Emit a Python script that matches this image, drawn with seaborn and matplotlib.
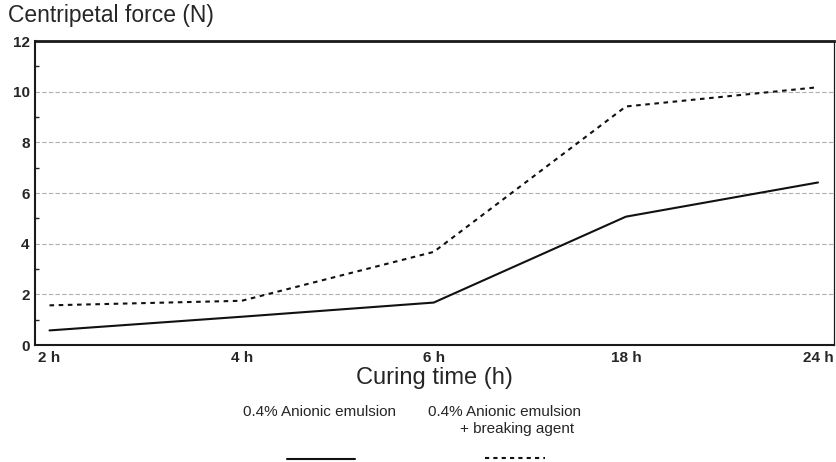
import matplotlib
matplotlib.use("Agg")
import matplotlib.pyplot as plt
import seaborn as sns
import pandas as pd
from matplotlib.lines import Line2D

categories = ["2 h", "4 h", "6 h", "18 h", "24 h"]
anionic = [0.58, 1.12, 1.68, 5.07, 6.42]
anionic_breaking = [1.57, 1.75, 3.68, 9.42, 10.18]
series_names = ["0.4% Anionic emulsion", "0.4% Anionic emulsion\n+ breaking agent"]
y_ticks = [0, 2, 4, 6, 8, 10, 12]

sns.set_theme(style="white")
plt.rcParams["font.family"] = ["Liberation Sans", "DejaVu Sans"]

df = pd.DataFrame({
    "time": categories * 2,
    "force": anionic + anionic_breaking,
    "series": [series_names[0]] * 5 + [series_names[1]] * 5,
})
df["pos"] = list(range(len(categories))) * 2

fig = plt.figure(figsize=(8.36, 4.62), dpi=100)
ax = fig.add_axes([0.042, 0.253, 0.956, 0.658])

sns.lineplot(data=df, x="pos", y="force", style="series",
             dashes={series_names[0]: "", series_names[1]: (2.2, 2.2)},
             color="#111111", linewidth=1.5, legend=False, ax=ax, sort=False)

ax.set_xlim(-0.075, 4.085)
ax.set_ylim(0, 12)
ax.set_xticks(range(len(categories)))
ax.set_xticklabels(categories, fontsize=11, fontweight="bold")
ax.set_yticks(y_ticks)
ax.set_yticklabels([str(v) for v in y_ticks], fontsize=11, fontweight="bold")
ax.set_yticks([1, 3, 5, 7, 9, 11], minor=True)
ax.tick_params(axis="both", which="major", direction="in", length=5, width=1, color="#222222", pad=4)
ax.tick_params(axis="y", which="minor", direction="in", length=3, width=1, color="#222222", left=True)
ax.tick_params(axis="x", which="major", length=6, pad=4)

for v in [2, 4, 6, 8, 10]:
    ax.axhline(v, color="#b0b0b0", linestyle=(0, (4, 2)), linewidth=0.8, zorder=0)

ax.spines["left"].set_linewidth(1.5)
ax.spines["bottom"].set_linewidth(1.5)
ax.spines["top"].set_linewidth(2.0)
ax.spines["right"].set_linewidth(0.9)
for s in ax.spines.values():
    s.set_color("#1a1a1a")

ax.set_xlabel("Curing time (h)", fontsize=17, labelpad=2)
ax.set_ylabel("")
fig.text(0.010, 0.966, "Centripetal force (N)", fontsize=16.5, ha="left", va="center")

# legend (text above line samples)
fig.text(0.382, 0.108, series_names[0], fontsize=11, ha="center", va="center")
fig.text(0.604, 0.108, "0.4% Anionic emulsion", fontsize=11, ha="center", va="center")
fig.text(0.619, 0.071, "+ breaking agent", fontsize=11, ha="center", va="center")
fig.add_artist(Line2D([0.343, 0.425], [0.006, 0.006], color="#111111", linewidth=1.5,
                      transform=fig.transFigure))
fig.add_artist(Line2D([0.580, 0.652], [0.008, 0.008], color="#111111", linewidth=1.5,
                      linestyle=(0, (2, 2)), transform=fig.transFigure))

fig.savefig("out.png", dpi=100)
